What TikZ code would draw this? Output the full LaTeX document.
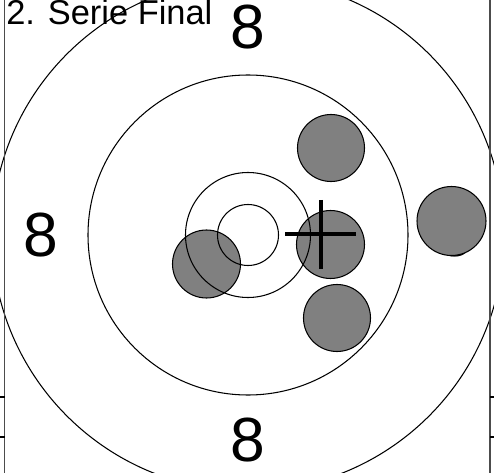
\documentclass[tikz,border=0pt]{standalone}
\usepackage{fontspec}
\setmainfont{Liberation Sans}
\usepackage{xcolor}
\definecolor{shotGray}{HTML}{808080}

\begin{document}
\begin{tikzpicture}[
      x=0.02cm, y=-0.02cm,
      ring/.style={draw=black, line width=0.6pt},
      shot/.style={draw=black, line width=0.6pt, fill=shotGray},
      bignum/.style={inner sep=0pt, anchor=center, font=\fontsize{35.5}{40}\selectfont},
      title/.style={inner sep=0pt, anchor=base west, font=\fontsize{19.6}{23}\selectfont},
      frame/.style={draw=black!70, line width=0.9pt},
    ]
      \useasboundingbox (0,0) rectangle (494,473);
      \clip (0,0) rectangle (494,473);
      \coordinate (ctr) at (248,235);

      % numbers on the ring
      \node[bignum] (numtop)   at (248,27)  {8};
      \node[bignum] (numleft)  at (41,235)  {8};
      \node[bignum] (numright) at (455,235) {8};
      \node[bignum] (numbot)   at (248,440) {8};

      % hits
      \draw[shot] (331,148) circle (33.5);
      \draw[shot] (330.5,244.5) circle (34);
      \draw[shot] (337,318) circle (33.5);
      \draw[shot] (206.5,264) circle (34);
      \draw[shot] (451.5,221) circle (34.5);

      % rings
      \draw[ring] (ctr) circle (256);
      \draw[ring] (ctr) circle (160);
      \draw[ring] (ctr) circle (62.5);
      \draw[ring] (ctr) circle (30.5);

      % mean point
      \coordinate (crossW) at (285,234);
      \coordinate (crossE) at (356,234);
      \coordinate (crossN) at (321,200);
      \coordinate (crossS) at (321,269);
      \draw[line width=2.4pt] (crossW) -- (crossE);
      \draw[line width=2.4pt] (crossN) -- (crossS);

      % side frame
      \coordinate (lt) at (4.5,0);   \coordinate (lb) at (4.5,473);
      \coordinate (rt) at (490,0);   \coordinate (rb) at (490,473);
      \draw[frame] (lt) -- (lb);
      \draw[frame] (rt) -- (rb);
      \foreach \yy in {397,437} {
        \draw[black, line width=0.6pt] (0,\yy) -- (4.5,\yy);
        \draw[black, line width=0.6pt] (490,\yy) -- (494,\yy);
      }

      \node[title] (series) at (6,25) {2. Serie Final};
    \end{tikzpicture}
\end{document}
